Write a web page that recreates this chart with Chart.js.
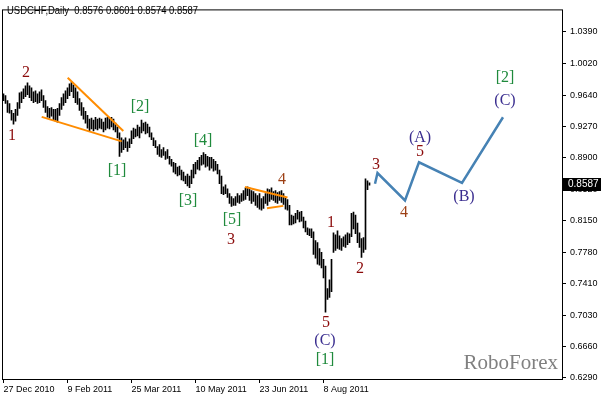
<!DOCTYPE html>
<html><head><meta charset="utf-8">
<script src="https://cdn.jsdelivr.net/npm/chart.js@4/dist/chart.umd.min.js"></script>
<style>html,body{margin:0;padding:0;background:#fff;overflow:hidden}canvas{display:block}</style>
</head><body>
<canvas id="c" width="602" height="397"></canvas>
<script>
// ---------- data ----------
const symbolTitle = 'USDCHF,Daily';
const lastOHLC = [0.8576, 0.8601, 0.8574, 0.8587];
const dateLabels = ['27 Dec 2010','9 Feb 2011','25 Mar 2011','10 May 2011','23 Jun 2011','8 Aug 2011'];
const dateLabelBars = [0, 32, 64, 96, 128, 160];
const priceTicks = [1.0390,1.0020,0.9640,0.9270,0.8900,0.8520,0.8150,0.7780,0.7410,0.7030,0.6660,0.6290];

const highs = [
0.9658,0.9635,0.9577,0.9542,0.9461,0.9426,0.9472,0.9553,0.9670,0.9681,
0.9716,0.9751,0.9786,0.9751,0.9728,0.9681,0.9693,0.9658,0.9681,0.9704,
0.9635,0.9577,0.9507,0.9484,0.9495,0.9472,0.9472,0.9484,0.9542,0.9611,
0.9658,0.9693,0.9728,0.9774,0.9797,0.9762,0.9728,0.9681,0.9600,0.9553,
0.9495,0.9449,0.9402,0.9356,0.9368,0.9344,0.9379,0.9356,0.9368,0.9356,
0.9321,0.9368,0.9379,0.9368,0.9379,0.9356,0.9310,0.9263,0.9193,0.9135,
0.9112,0.9135,0.9089,0.9124,0.9217,0.9251,0.9240,0.9286,0.9263,0.9344,
0.9310,0.9321,0.9298,0.9263,0.9193,0.9135,0.9101,0.9031,0.9054,0.8996,
0.9019,0.8973,0.8996,0.8915,0.8880,0.8845,0.8833,0.8787,0.8799,0.8752,
0.8729,0.8682,0.8706,0.8682,0.8752,0.8822,0.8845,0.8868,0.8903,0.8926,
0.8961,0.8938,0.8915,0.8903,0.8903,0.8880,0.8857,0.8822,0.8752,0.8682,
0.8555,0.8578,0.8531,0.8473,0.8439,0.8415,0.8439,0.8473,0.8450,0.8473,
0.8508,0.8543,0.8555,0.8543,0.8508,0.8497,0.8473,0.8450,0.8473,0.8415,
0.8439,0.8473,0.8531,0.8520,0.8543,0.8497,0.8508,0.8485,0.8497,0.8508,
0.8473,0.8427,0.8404,0.8334,0.8218,0.8206,0.8241,0.8276,0.8253,0.8264,
0.8195,0.8148,0.8067,0.8055,0.8055,0.8020,0.7916,0.7893,0.7823,0.7777,
0.7695,0.7614,0.7347,0.7451,0.7695,0.8009,0.7986,0.8032,0.7974,0.7939,
0.7962,0.7986,0.8009,0.7997,0.8241,0.8253,0.8218,0.8125,0.8009,0.7939,
0.7951,0.8648,0.8624,0.8601];
const lows = [
0.9577,0.9542,0.9437,0.9426,0.9344,0.9298,0.9333,0.9402,0.9484,0.9553,
0.9600,0.9623,0.9646,0.9611,0.9577,0.9553,0.9565,0.9542,0.9553,0.9577,
0.9495,0.9437,0.9379,0.9368,0.9391,0.9344,0.9333,0.9321,0.9402,0.9472,
0.9519,0.9553,0.9600,0.9635,0.9681,0.9611,0.9553,0.9530,0.9461,0.9402,
0.9356,0.9310,0.9251,0.9217,0.9240,0.9217,0.9240,0.9228,0.9251,0.9240,
0.9205,0.9228,0.9251,0.9240,0.9263,0.9228,0.9205,0.9135,0.8915,0.8961,
0.8996,0.9019,0.8973,0.9019,0.9066,0.9124,0.9147,0.9159,0.9135,0.9193,
0.9217,0.9182,0.9193,0.9147,0.9112,0.9042,0.9019,0.8938,0.8915,0.8903,
0.8926,0.8880,0.8891,0.8822,0.8799,0.8729,0.8706,0.8682,0.8694,0.8636,
0.8624,0.8590,0.8566,0.8543,0.8590,0.8659,0.8706,0.8764,0.8752,0.8810,
0.8822,0.8787,0.8799,0.8752,0.8775,0.8740,0.8752,0.8706,0.8590,0.8473,
0.8462,0.8473,0.8427,0.8357,0.8322,0.8334,0.8334,0.8369,0.8357,0.8380,
0.8392,0.8404,0.8450,0.8392,0.8357,0.8380,0.8334,0.8311,0.8288,0.8276,
0.8299,0.8357,0.8334,0.8380,0.8404,0.8392,0.8369,0.8357,0.8392,0.8369,
0.8346,0.8288,0.8276,0.8102,0.8102,0.8113,0.8125,0.8171,0.8137,0.8148,
0.8067,0.8020,0.7986,0.7974,0.7951,0.7753,0.7707,0.7637,0.7626,0.7591,
0.7475,0.7068,0.7219,0.7242,0.7312,0.7777,0.7800,0.7823,0.7811,0.7800,
0.7846,0.7834,0.7869,0.7893,0.7962,0.8055,0.7997,0.7893,0.7834,0.7718,
0.7777,0.7811,0.8520,0.8574];

// projected wave path (bar index, price)
const projectionBars   = [185.75, 187, 200.75, 207.75, 229.25, 249.75];
const projectionPrices = [0.8590, 0.8717, 0.8392, 0.8845, 0.8601, 0.9379];

// orange wedge / triangle lines (bar index, price)
const wedgeUpperBars = [32.1, 59.9];   const wedgeUpperPrices = [0.9847, 0.9217];
const wedgeLowerBars = [19.1, 59.1];   const wedgeLowerPrices = [0.9383, 0.9093];
const triUpperBars   = [120.75, 142];  const triUpperPrices   = [0.8551, 0.8427];
const triLowerBars   = [131.75, 139.9];const triLowerPrices   = [0.8299, 0.8328];

// wave labels
const waveText   = ['1','2','[1]','[2]','[3]','[4]','[5]','3','4','1','2','5','(C)','[1]','3','4','(A)','5','(B)','(C)','[2]'];
const waveBar    = [4.25,11.25,56.75,68.25,92.25,99.75,114.25,113.75,139.25,163.75,178.25,161.25,160.75,160.75,186.25,200.25,208.25,208.25,230.25,250.75,250.75];
const wavePrice  = [0.9159,0.9902,0.8741,0.9507,0.8392,0.9101,0.8160,0.7928,0.8636,0.8125,0.7579,0.6940,0.6731,0.6499,0.8810,0.8241,0.9136,0.8973,0.8439,0.9577,0.9844];
const waveDegree = ['minor','minor','inter','inter','inter','inter','inter','minor','minor4','minor','minor','minor','primary','inter','minor','minor4','primary','minor','primary','primary','inter'];

// ---------- styles ----------
const degreeColor = {minor:'#8b0a0a', minor4:'#9c3f14', inter:'#1f8a3c', primary:'#3a2d8f'};
const axisFont = {family:"'Liberation Sans',Arial,sans-serif", size:9};

const pts = (xs, ys) => xs.map((x,i)=>({x:x, y:ys[i]}));
const barData = highs.map((h,i)=>({x:i, y:[lows[i], h]}));
const orange = '#ff8c00';
const lineDs = (d, color, w) => ({type:'line', data:d, borderColor:color, borderWidth:w, pointRadius:0, tension:0, fill:false, order:1});

const overlay = {
  id:'overlay',
  afterDatasetsDraw(chart){
    const {ctx, scales:{x, y}} = chart;
    ctx.save();
    ctx.font = "16px 'Liberation Serif','Times New Roman',serif";
    ctx.textAlign = 'center'; ctx.textBaseline = 'middle';
    waveText.forEach((t,i)=>{
      ctx.fillStyle = degreeColor[waveDegree[i]];
      ctx.fillText(t, x.getPixelForValue(waveBar[i]), y.getPixelForValue(wavePrice[i]));
    });
    ctx.restore();
  },
  afterDraw(chart){
    const {ctx, chartArea:a, scales:{y}} = chart;
    ctx.save();
    // frame
    ctx.strokeStyle = '#000'; ctx.lineWidth = 1;
    ctx.strokeRect(a.left + 0.5, a.top + 0.5, a.right - a.left, a.bottom - a.top);
    // title
    ctx.fillStyle = '#000';
    ctx.font = "11px 'Liberation Sans',Arial,sans-serif";
    ctx.textAlign = 'left'; ctx.textBaseline = 'middle';
    ctx.fillText(symbolTitle + '  ' + lastOHLC.map(v=>v.toFixed(4)).join(' '), 7, 11, 191);
    // watermark
    ctx.fillStyle = '#808080';
    ctx.font = "21px 'Liberation Serif','Times New Roman',serif";
    ctx.textAlign = 'right'; ctx.textBaseline = 'alphabetic';
    ctx.fillText('RoboForex', 558, 369);
    // current price marker
    const py = Math.round(y.getPixelForValue(lastOHLC[3]));
    ctx.fillStyle = '#000';
    ctx.fillRect(a.right + 1, py - 6, 38, 13);
    ctx.fillStyle = '#fff';
    ctx.font = "10px 'Liberation Sans',Arial,sans-serif";
    ctx.textAlign = 'left'; ctx.textBaseline = 'middle';
    ctx.fillText(lastOHLC[3].toFixed(4), a.right + 6, py + 0.5);
    ctx.restore();
  }
};

new Chart(document.getElementById('c').getContext('2d'), {
  type:'bar',
  data:{datasets:[
    {type:'bar', data:barData, backgroundColor:'#000', borderWidth:0, barThickness:1, grouped:false, order:3},
    lineDs(pts(wedgeUpperBars, wedgeUpperPrices), orange, 2),
    lineDs(pts(wedgeLowerBars, wedgeLowerPrices), orange, 2),
    lineDs(pts(triUpperBars, triUpperPrices), orange, 2),
    lineDs(pts(triLowerBars, triLowerPrices), orange, 2),
    lineDs(pts(projectionBars, projectionPrices), '#4682b4', 2.5)
  ]},
  options:{
    responsive:false, animation:false, devicePixelRatio:1,
    layout:{padding:{left:2, top:2, right:0, bottom:0}},
    plugins:{legend:{display:false}, tooltip:{enabled:false}},
    scales:{
      x:{type:'linear', min:-0.75, max:279.25, offset:false,
        afterBuildTicks:s=>{ s.ticks = dateLabelBars.map(v=>({value:v})); },
        afterFit:s=>{ s.height = 18; },
        ticks:{autoSkip:false, maxRotation:0, minRotation:0, align:'start', padding:1, color:'#000', font:axisFont,
          callback:v=>dateLabels[dateLabelBars.indexOf(v)]},
        grid:{drawOnChartArea:false, offset:false, tickLength:4, color:'#000'},
        border:{display:false}},
      y:{type:'linear', position:'right', min:0.6275, max:1.0658,
        afterBuildTicks:s=>{ s.ticks = priceTicks.map(v=>({value:v})); },
        afterFit:s=>{ s.width = 40; },
        ticks:{autoSkip:false, padding:4, color:'#000', font:axisFont, callback:v=>v.toFixed(4)},
        grid:{drawOnChartArea:false, tickLength:4, color:'#000'},
        border:{display:false}}
    }
  },
  plugins:[overlay]
});
</script>
</body></html>
